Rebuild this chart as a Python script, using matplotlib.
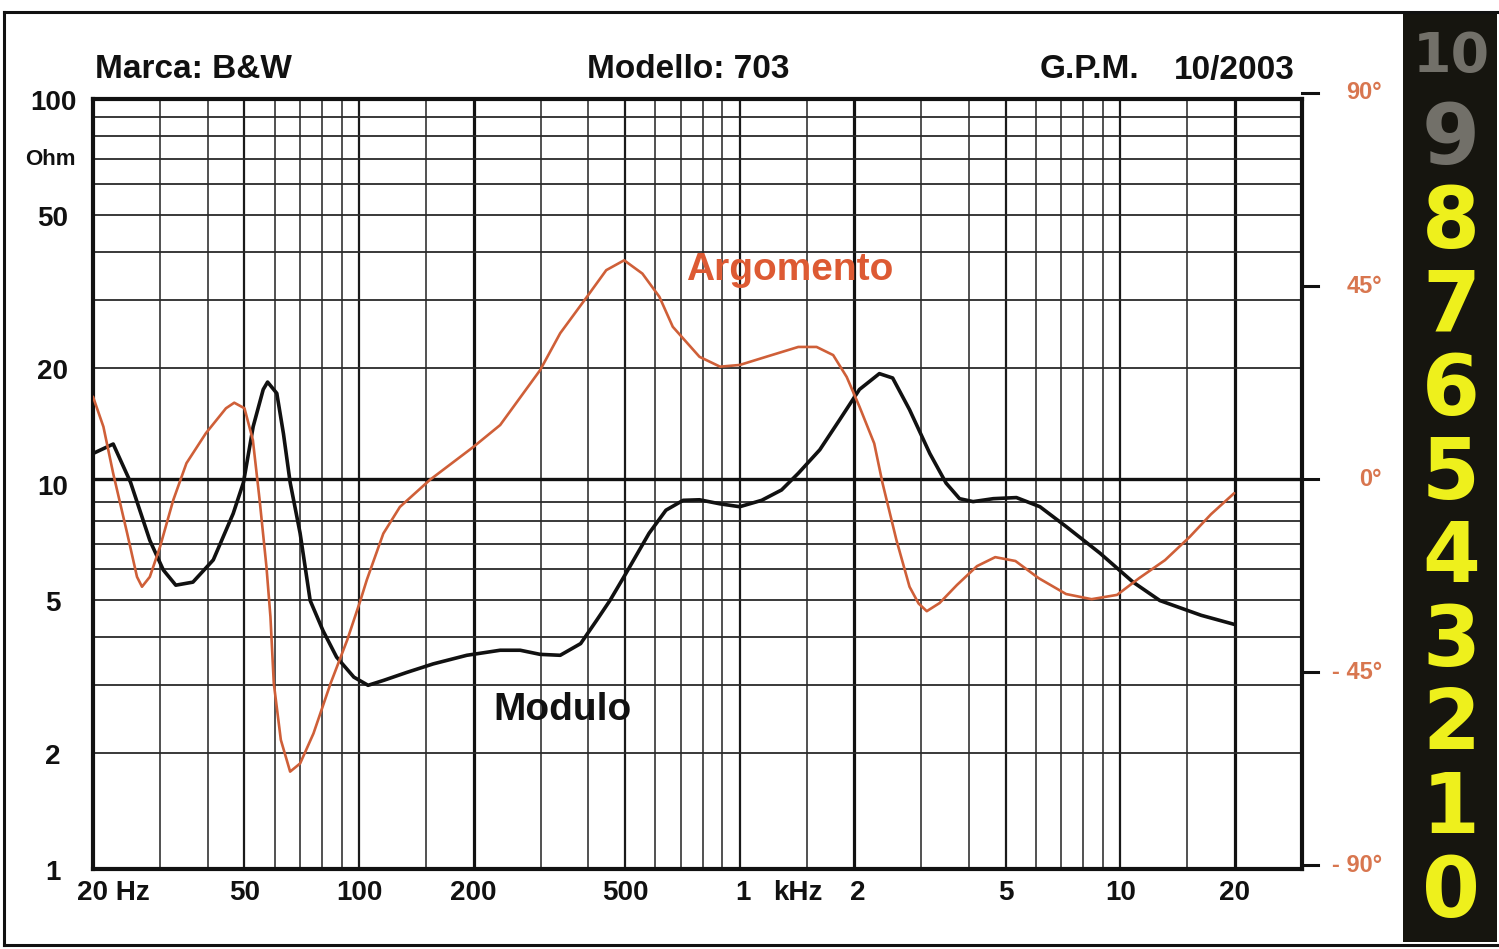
import math
import matplotlib
matplotlib.use("Agg")
import matplotlib.pyplot as plt
from matplotlib.transforms import blended_transform_factory
from matplotlib.patches import Rectangle
from matplotlib.lines import Line2D

plt.rcParams["font.family"] = ["Liberation Sans", "DejaVu Sans"]

# Impedance modulus (Ohm) vs frequency (Hz)
mod_freq = [20, 22.6, 25.1, 28.2, 30.6, 33.0, 36.6, 41.4, 46.7, 49.7, 52.7, 56.0,
            57.5, 60.8, 63.3, 65.9, 70.0, 74.4, 80.4, 87.3, 96.9, 105.6, 116,
            133.4, 156.6, 191.9, 234.8, 265, 299, 337.6, 382, 420.5, 456, 502,
            578, 640, 710, 784, 888, 1000, 1142, 1288, 1425, 1623, 1830, 2063,
            2327, 2522, 2793, 3158, 3485, 3780, 4102, 4635, 5332, 6146, 7218,
            8842, 10800, 12700, 16300, 19900]
mod_ohm = [12.0, 12.7, 10.1, 7.14, 5.98, 5.46, 5.56, 6.35, 8.38, 10.1, 14.1, 17.6,
           18.4, 17.2, 13.5, 10.1, 7.45, 4.98, 4.16, 3.55, 3.15, 3.0, 3.09,
           3.24, 3.41, 3.59, 3.70, 3.70, 3.61, 3.59, 3.85, 4.42, 4.98, 5.85,
           7.45, 8.55, 9.07, 9.1, 8.88, 8.73, 9.07, 9.65, 10.66, 12.27, 14.68, 17.6,
           19.35, 18.85, 15.6, 12.0, 10.05, 9.16, 9.0, 9.16, 9.22, 8.73, 7.74,
           6.61, 5.56, 4.98, 4.56, 4.32]

# Impedance phase (degrees) vs frequency (Hz)
arg_freq = [20, 21.3, 22.6, 24.6, 26.1, 26.9, 28.2, 30.0, 32.5, 35.2, 39.6, 44.7,
            47.0, 50.0, 52.6, 54.8, 57.1, 58.5, 59.7, 62.3, 65.9, 70.0, 75.9,
            84.2, 93.1, 100.9, 104.8, 115.8, 128.0, 153.4, 199.7, 234.8, 299,
            337.6, 397, 446, 497, 555, 615, 667, 784, 888, 1000, 1173, 1425,
            1592, 1760, 1910, 2063, 2256, 2373, 2580, 2793, 2950, 3100, 3350,
            3720, 4200, 4690, 5300, 6100, 7200, 8400, 9800, 11200, 13100,
            15200, 17300, 19900]
arg_deg = [19.2, 12.2, 1.3, -12.7, -22.8, -25.1, -22.8, -15.8, -4.9, 3.7, 10.7, 16.5,
           17.8, 16.5, 9.1, -4.9, -20.4, -32.1, -47.6, -60.8, -68.2, -66.3, -59.3,
           -47.6, -37.5, -28.2, -23.5, -12.7, -6.5, -0.2, 7.5, 12.6, 25.4,
           34.0, 42.5, 48.7, 51.0, 47.9, 42.5, 35.5, 28.5, 26.2, 26.6, 28.5, 30.8,
           30.8, 28.9, 23.8, 16.9, 8.3, -1.0, -14.2, -25.1, -29.0, -30.8, -28.9,
           -24.7, -20.3, -18.2, -19.1, -23.1, -26.8, -28.0, -27.0, -23.1, -18.9,
           -13.5, -8.2, -3.3]

# Axis annotations
y_tick_vals = [100, 50, 20, 10, 5, 2, 1]
x_tick_vals = [50, 100, 200, 500, 1000, 2000, 5000, 10000, 20000]
x_tick_text = ["50", "100", "200", "500", "1", "2", "5", "10", "20"]
phase_tick_vals = [90, 45, 0, -45, -90]
phase_tick_text = ["90°", "45°", "0°", "- 45°", "- 90°"]
score_digits = ["10", "9", "8", "7", "6", "5", "4", "3", "2", "1", "0"]

W, H = 1499, 949
fig = plt.figure(figsize=(W / 100, H / 100), dpi=100)
fig.patch.set_facecolor("white")


def fx(px):
    return px / W


def fy(py):
    return 1 - py / H


# outer frame
for (x0, y0, x1, y1) in [(4, 12, W, 12), (4, 12, 4, 945), (4, 945, W, 945)]:
    fig.add_artist(Line2D([fx(x0), fx(x1)], [fy(y0), fy(y1)], color="#111111",
                          lw=2.2, transform=fig.transFigure))

# score strip on the right
strip = Rectangle((fx(1403), fy(942)), fx(1497) - fx(1403), fy(12) - fy(942),
                  transform=fig.transFigure, facecolor="#16150f", edgecolor="none")
fig.add_artist(strip)
for i, d in enumerate(score_digits):
    yc = 57 + 83.6 * i
    col = "#727069" if d in ("10", "9") else "#eef01c"
    size = 40 if d == "10" else 60
    fig.text(fx(1451), fy(yc), d, ha="center", va="center", color=col,
             fontsize=size, fontweight="bold", family="DejaVu Sans")

# main axes
L, R, T, B = 93, 1302, 99, 869
ax = fig.add_axes([fx(L), fy(B), fx(R) - fx(L), fy(T) - fy(B)])
ax.set_xscale("log")
ax.set_yscale("log")
ax.set_xlim(20, 30000)
ax.set_ylim(1, 100)
ax.set_xticks([])
ax.set_yticks([])
ax.minorticks_off()
for s in ax.spines.values():
    s.set_linewidth(3.0)
    s.set_color("#111111")

# vertical grid
vlines = ([30, 40, 50, 60, 70, 80, 90, 100, 150] +
          [300, 400, 500, 600, 700, 800, 900, 1000, 1500] +
          [3000, 4000, 5000, 6000, 7000, 8000, 9000, 10000, 15000])
for v in vlines:
    if v in (50, 100, 500, 1000, 5000, 10000):
        ax.axvline(v, color="#1a1a1a", lw=1.6, zorder=1)
    else:
        ax.axvline(v, color="#333333", lw=1.2, zorder=1)
for v in (200, 2000, 20000):
    ax.axvline(v, color="#111111", lw=2.3, zorder=1)

# horizontal grid
hlines = [2, 3, 4, 5, 6, 7, 8, 9, 20, 30, 40, 50, 60, 70, 80, 90]
for h in hlines:
    ax.axhline(h, color="#2a2a2a", lw=1.3, zorder=1)

ax.plot(mod_freq, mod_ohm, color="#111111", lw=2.6, zorder=4,
        solid_joinstyle="round", solid_capstyle="round")

# phase axis
ax2 = ax.twinx()
ax2.set_ylim(-90.9, 88.6)
ax2.set_yticks([])
ax2.minorticks_off()
for s in ax2.spines.values():
    s.set_visible(False)
ax2.axhline(0, color="#111111", lw=2.4, zorder=2)
ax2.plot(arg_freq, arg_deg, color="#cf5f38", lw=1.9, zorder=3,
         solid_joinstyle="round", solid_capstyle="round")

tr2 = blended_transform_factory(ax2.transAxes, ax2.transData)
for v, lab in zip(phase_tick_vals, phase_tick_text):
    ax2.plot([1.0, 1.0132], [v, v], transform=tr2, clip_on=False,
             color="#111111", lw=2.2)
    ax2.text((1382 - L) / (R - L), v, lab, transform=tr2, ha="right",
             va="center", fontsize=17, fontweight="bold", color="#d8764f")

# impedance labels
for v in y_tick_vals:
    ypx = B - (B - T) * (math.log10(v) / 2)
    fig.text(fx(53), fy(ypx) - 0.004, str(v), ha="center", va="center",
             fontsize=20, fontweight="bold", color="#111111")
fig.text(fx(50), fy(160), "Ohm", ha="center", va="center", fontsize=16,
         fontweight="bold", color="#111111")

# frequency labels
trx = blended_transform_factory(ax.transData, ax.transAxes)
ylab = -(893 - B) / (B - T)
ax.text(18.2, ylab, "20 Hz", transform=trx, ha="left", va="center",
        fontsize=20, fontweight="bold", color="#111111")
for v, lab in zip(x_tick_vals, x_tick_text):
    xv = v * 1.02 if v in (1000, 2000) else v
    ax.text(xv, ylab, lab, transform=trx, ha="center", va="center",
            fontsize=20, fontweight="bold", color="#111111")
ax.text(1425, ylab, "kHz", transform=trx, ha="center", va="center",
        fontsize=20, fontweight="bold", color="#111111")

# header
fig.text(fx(95), fy(70), "Marca: B&W", ha="left", va="center", fontsize=24,
         fontweight="bold", color="#111111")
fig.text(fx(688), fy(70), "Modello: 703", ha="center", va="center", fontsize=24,
         fontweight="bold", color="#111111")
fig.text(fx(1040), fy(70), "G.P.M.", ha="left", va="center", fontsize=24,
         fontweight="bold", color="#111111")
fig.text(fx(1295), fy(70), "10/2003", ha="right", va="center", fontsize=24,
         fontweight="bold", color="#111111")

# curve names
fig.text(fx(790), fy(270), "Argomento", ha="center", va="center", fontsize=28,
         fontweight="bold", color="#dd5a33")
fig.text(fx(562), fy(710), "Modulo", ha="center", va="center", fontsize=28,
         fontweight="bold", color="#111111")

fig.savefig("out.png", dpi=100, facecolor="white")
